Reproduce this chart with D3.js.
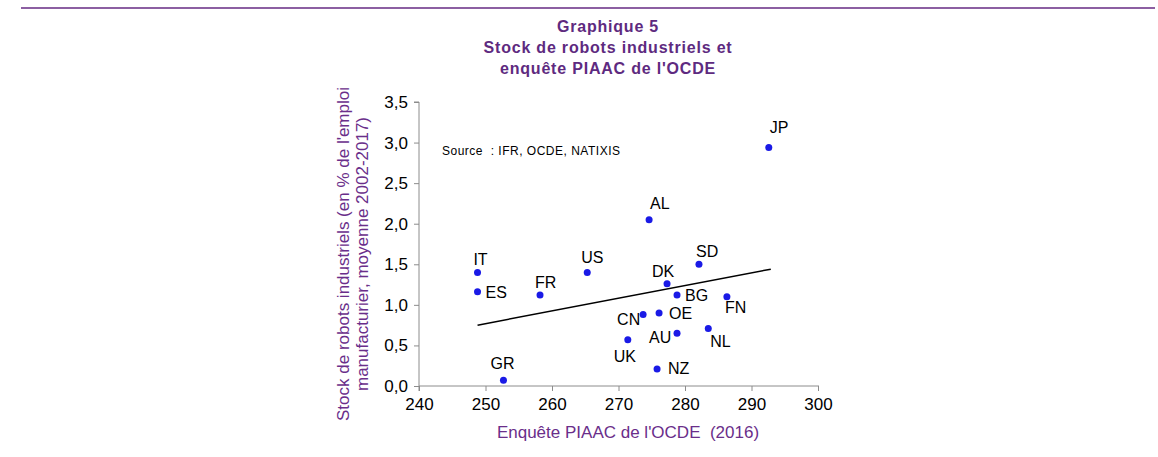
<!DOCTYPE html>
<html>
<head>
<meta charset="utf-8">
<script src="https://cdn.jsdelivr.net/npm/d3@7"></script>
<style>
  body { margin: 0; background: #fff; }
  svg { font-family: "Liberation Sans", Arial, sans-serif; }
  .axis path, .axis line { stroke: #8c8c8c; }
  .axis text { font-size: 17px; fill: #000; font-family: "Liberation Sans", Arial, sans-serif; }
</style>
</head>
<body>
<div id="chart"></div>
<script>
// Pays (codes) et valeurs
const countries = ["JP", "AL", "IT", "US", "SD", "DK", "ES", "FR", "BG", "FN", "CN", "OE", "AU", "NL", "UK", "NZ", "GR"];
const piaacScores = [292.6, 274.6, 248.8, 265.3, 282.1, 277.3, 248.8, 258.2, 278.8, 286.3, 273.7, 276.1, 278.8, 283.5, 271.4, 275.8, 252.7];
const robotStock = [2.94, 2.05, 1.40, 1.40, 1.50, 1.26, 1.16, 1.12, 1.12, 1.10, 0.88, 0.90, 0.65, 0.71, 0.57, 0.21, 0.07];

// Droite de tendance (extrémités lues)
const trendX = [248.8, 292.9];
const trendY = [0.75, 1.44];

const xTicks = [240, 250, 260, 270, 280, 290, 300];
const yTicks = [0, 0.5, 1, 1.5, 2, 2.5, 3, 3.5];

const titleLines = ["Graphique 5", "Stock de robots industriels et", "enquête PIAAC de l'OCDE"];
const yTitleLines = ["Stock de robots industriels (en % de l'emploi", "manufacturier, moyenne 2002-2017)"];
const xTitle = "Enquête PIAAC de l'OCDE  (2016)";
const sourceText = "Source  : IFR, OCDE, NATIXIS";

// position des étiquettes par rapport au point [dx, dy, ancre]
const labelPos = {
  JP: [1, -14, "start"], AL: [1, -11, "start"], IT: [3, -7, "middle"], US: [5, -9, "middle"],
  SD: [-3, -7, "start"], DK: [-15, -7, "start"], ES: [8, 6, "start"], FR: [-5, -7, "start"],
  BG: [8, 6, "start"], FN: [-2, 16, "start"], CN: [-26, 10, "start"], OE: [10, 6, "start"],
  AU: [-28, 10, "start"], NL: [2, 19, "start"], UK: [-14, 22, "start"], NZ: [11, 5, "start"],
  GR: [-13, -11, "start"]
};

const W = 1158, H = 457;
const margin = { top: 102, left: 419 };
const width = 399, height = 284;

const svg = d3.select("#chart").append("svg")
  .attr("width", W).attr("height", H);

// filet du haut
svg.append("line")
  .attr("x1", 21).attr("x2", 1155).attr("y1", 8).attr("y2", 8)
  .attr("stroke", "#8c5fa2").attr("stroke-width", 2);

// titre
svg.append("g").selectAll("text")
  .data(titleLines)
  .enter().append("text")
  .attr("x", 608)
  .attr("y", (d, i) => 32 + i * 21)
  .attr("text-anchor", "middle")
  .style("font-size", "16px")
  .style("letter-spacing", "0.8px")
  .style("font-weight", "bold")
  .style("fill", "#5e2a80")
  .text(d => d);

const g = svg.append("g").attr("transform", `translate(${margin.left},${margin.top})`);

const x = d3.scaleLinear().domain([240, 300]).range([0, width]);
const y = d3.scaleLinear().domain([0, 3.5]).range([height, 0]);

g.append("g")
  .attr("class", "axis")
  .attr("transform", `translate(0,${height})`)
  .call(d3.axisBottom(x).tickValues(xTicks).tickSize(5).tickPadding(7).tickFormat(d3.format("d")))
  .call(a => a.select(".domain").attr("d", `M0,5V0H${width + 1}`));

const fmtY = d => d3.format(".1f")(d).replace(".", ",");
g.append("g")
  .attr("class", "axis")
  .call(d3.axisLeft(y).tickValues(yTicks).tickSize(5).tickPadding(6).tickFormat(fmtY))
  .call(a => a.select(".domain").attr("d", `M-5,0H0V${height}`));

// source
g.append("text")
  .attr("x", 23).attr("y", 53)
  .style("font-size", "12px")
  .style("letter-spacing", "0.5px")
  .style("white-space", "pre")
  .style("fill", "#000")
  .text(sourceText);

// droite de tendance
g.append("line")
  .attr("x1", x(trendX[0])).attr("y1", y(trendY[0]))
  .attr("x2", x(trendX[1])).attr("y2", y(trendY[1]))
  .attr("stroke", "#000").attr("stroke-width", 1.5);

const pts = countries.map((c, i) => ({ c, px: piaacScores[i], rs: robotStock[i] }));

g.selectAll(".dot")
  .data(pts)
  .enter().append("circle")
  .attr("class", "dot")
  .attr("cx", d => x(d.px))
  .attr("cy", d => y(d.rs))
  .attr("r", 3.5)
  .attr("fill", "#1a1ae6");

g.selectAll(".lbl")
  .data(pts)
  .enter().append("text")
  .attr("class", "lbl")
  .attr("x", d => x(d.px) + labelPos[d.c][0])
  .attr("y", d => y(d.rs) + labelPos[d.c][1])
  .attr("text-anchor", d => labelPos[d.c][2])
  .style("font-size", "16px")
  .style("fill", "#000")
  .text(d => d.c);

// titres des axes
svg.append("text")
  .attr("x", 628).attr("y", 438)
  .attr("text-anchor", "middle")
  .style("font-size", "17px")
  .style("fill", "#6a2e8a")
  .style("white-space", "pre")
  .text(xTitle);

svg.append("g")
  .attr("transform", "translate(349,254) rotate(-90)")
  .selectAll("text")
  .data(yTitleLines)
  .enter().append("text")
  .attr("x", 0)
  .attr("y", (d, i) => i * 19)
  .attr("text-anchor", "middle")
  .style("font-size", "17px")
  .style("fill", "#6a2e8a")
  .text(d => d);
</script>
</body>
</html>
